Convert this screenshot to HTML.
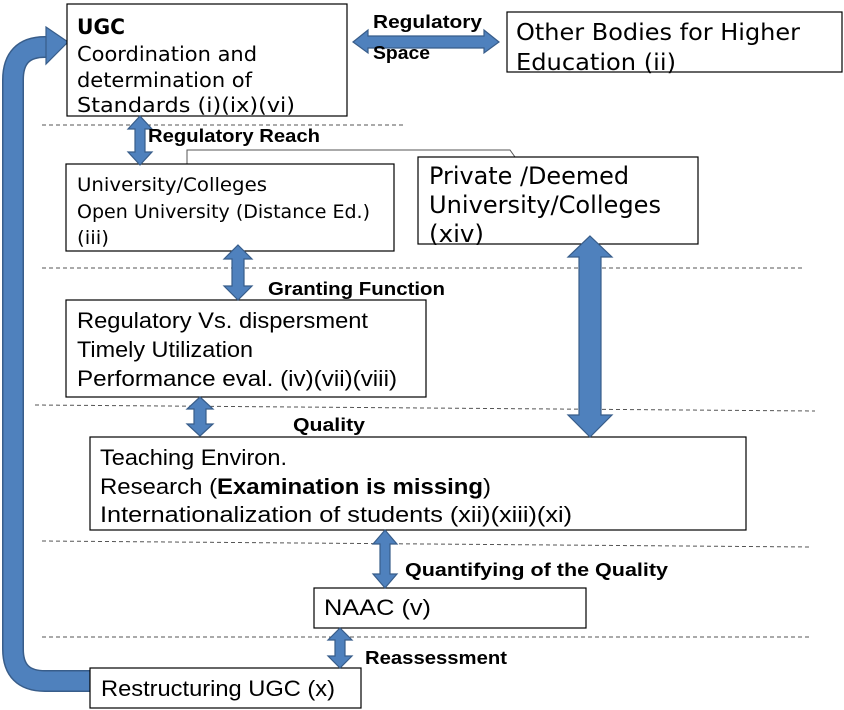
<!DOCTYPE html>
<html><head><meta charset="utf-8"><style>
html,body{margin:0;padding:0;background:#fff;}
svg{display:block;}
.b{font-family:"Liberation Sans",Arial,sans-serif;font-size:22px;fill:#000;}
.l{font-family:"Liberation Sans",Arial,sans-serif;font-weight:bold;font-size:18px;fill:#000;}
.t{font-family:"DejaVu Sans","Liberation Sans",sans-serif;font-size:20px;fill:#000;}
.a{fill:#4f81bd;stroke:#385d8a;stroke-width:1.2;}
.d{stroke:#555;stroke-width:1;stroke-dasharray:4,3;}
rect{fill:#fff;stroke:#000;stroke-width:1.2;}
</style></head><body>
<svg width="844" height="710" viewBox="0 0 844 710" xmlns="http://www.w3.org/2000/svg">
<line class="d" x1="42" y1="125" x2="403" y2="125"/>
<line class="d" x1="42" y1="268" x2="803" y2="268"/>
<line class="d" x1="35" y1="405" x2="815" y2="411"/>
<line class="d" x1="42" y1="541" x2="810" y2="547"/>
<line class="d" x1="42" y1="637" x2="810" y2="637"/>

<path d="M92 681 L45 681 Q13 681 13 649 L13 80 Q13 47 45 47 L52 47" fill="none" stroke="#385d8a" stroke-width="22"/>
<path d="M92 681 L45 681 Q13 681 13 649 L13 80 Q13 47 45 47 L52 47" fill="none" stroke="#4f81bd" stroke-width="19"/>
<polygon class="a" points="46,27 68,42 46,64"/>

<rect x="67" y="4" width="280" height="112"/>
<rect x="507" y="12" width="335" height="60"/>
<polyline points="187,164 187,150 510,150 515,157" fill="none" stroke="#555" stroke-width="1"/>
<rect x="66" y="164" width="328" height="87"/>
<rect x="418" y="157" width="280" height="87"/>
<rect x="66" y="300" width="360" height="97"/>
<rect x="90" y="437" width="656" height="93"/>
<rect x="314" y="588" width="272" height="40"/>
<rect x="90" y="668" width="271" height="40"/>

<polygon class="a" points="353,42 368,30 368,36 484,36 484,30 499,42 484,53 484,48 368,48 368,53"/>
<polygon class="a" points="140,116 152,129 145,129 145,152 152,152 140,165 128,152 135,152 135,129 128,129"/>
<polygon class="a" points="238,245 252,259 244,259 244,286 252,286 238,300 224,286 232,286 232,259 224,259"/>
<polygon class="a" points="200,397 213,409 206,409 206,424 213,424 200,436 187,424 194,424 194,409 187,409"/>
<polygon class="a" points="590,236 612,257 601,257 601,415 612,415 590,437 568,415 579,415 579,257 568,257"/>
<polygon class="a" points="385,530 397,544 390,544 390,574 397,574 385,588 373,574 380,574 380,544 373,544"/>
<polygon class="a" points="340,628 352,640 345,640 345,656 352,656 340,668 328,656 335,656 335,640 328,640"/>

<text class="t" x="77" y="34" style="font-weight:bold;font-size:21px" textLength="48" lengthAdjust="spacingAndGlyphs">UGC</text>
<text class="t" x="77" y="61" textLength="180" lengthAdjust="spacingAndGlyphs">Coordination and</text>
<text class="t" x="77" y="87" textLength="175" lengthAdjust="spacingAndGlyphs">determination of</text>
<text class="t" x="77" y="112" textLength="218" lengthAdjust="spacingAndGlyphs">Standards  (i)(ix)(vi)</text>
<text class="t" x="516" y="40" style="font-size:23px" textLength="284" lengthAdjust="spacingAndGlyphs">Other Bodies for Higher</text>
<text class="t" x="516" y="70" style="font-size:23px" textLength="160" lengthAdjust="spacingAndGlyphs">Education (ii)</text>
<text class="t" x="77" y="191" style="font-size:19px" textLength="190" lengthAdjust="spacingAndGlyphs">University/Colleges</text>
<text class="t" x="77" y="218" style="font-size:19px" textLength="293" lengthAdjust="spacingAndGlyphs">Open University (Distance Ed.)</text>
<text class="t" x="77" y="244" style="font-size:19px" textLength="32" lengthAdjust="spacingAndGlyphs">(iii)</text>
<text class="t" x="429" y="184" style="font-size:24px" textLength="200" lengthAdjust="spacingAndGlyphs">Private /Deemed</text>
<text class="t" x="429" y="213" style="font-size:24px" textLength="232" lengthAdjust="spacingAndGlyphs">University/Colleges</text>
<text class="t" x="429" y="242" style="font-size:24px" textLength="55" lengthAdjust="spacingAndGlyphs">(xiv)</text>
<text class="b" x="77" y="328" textLength="291" lengthAdjust="spacingAndGlyphs">Regulatory Vs. dispersment</text>
<text class="b" x="77" y="357" textLength="176" lengthAdjust="spacingAndGlyphs">Timely Utilization</text>
<text class="b" x="77" y="386" textLength="320" lengthAdjust="spacingAndGlyphs">Performance eval.  (iv)(vii)(viii)</text>
<text class="b" x="100" y="465" textLength="187" lengthAdjust="spacingAndGlyphs">Teaching Environ.</text>
<text class="b" x="100" y="494" textLength="391" lengthAdjust="spacingAndGlyphs">Research (<tspan font-weight="bold">Examination is missing</tspan>)</text>
<text class="b" x="100" y="522" textLength="472" lengthAdjust="spacingAndGlyphs">Internationalization of students     (xii)(xiii)(xi)</text>
<text class="b" x="324" y="615" textLength="107" lengthAdjust="spacingAndGlyphs">NAAC  (v)</text>
<text class="b" x="101" y="696" textLength="234" lengthAdjust="spacingAndGlyphs">Restructuring UGC (x)</text>

<text class="l" x="373" y="28" textLength="109" lengthAdjust="spacingAndGlyphs">Regulatory</text>
<text class="l" x="373" y="59" textLength="57" lengthAdjust="spacingAndGlyphs">Space</text>
<text class="l" x="148" y="142" textLength="172" lengthAdjust="spacingAndGlyphs">Regulatory Reach</text>
<text class="l" x="268" y="295" textLength="177" lengthAdjust="spacingAndGlyphs">Granting Function</text>
<text class="l" x="293" y="431" textLength="72" lengthAdjust="spacingAndGlyphs">Quality</text>
<text class="l" x="405" y="576" textLength="263" lengthAdjust="spacingAndGlyphs">Quantifying of  the Quality</text>
<text class="l" x="365" y="664" textLength="142" lengthAdjust="spacingAndGlyphs">Reassessment</text>
</svg>
</body></html>
